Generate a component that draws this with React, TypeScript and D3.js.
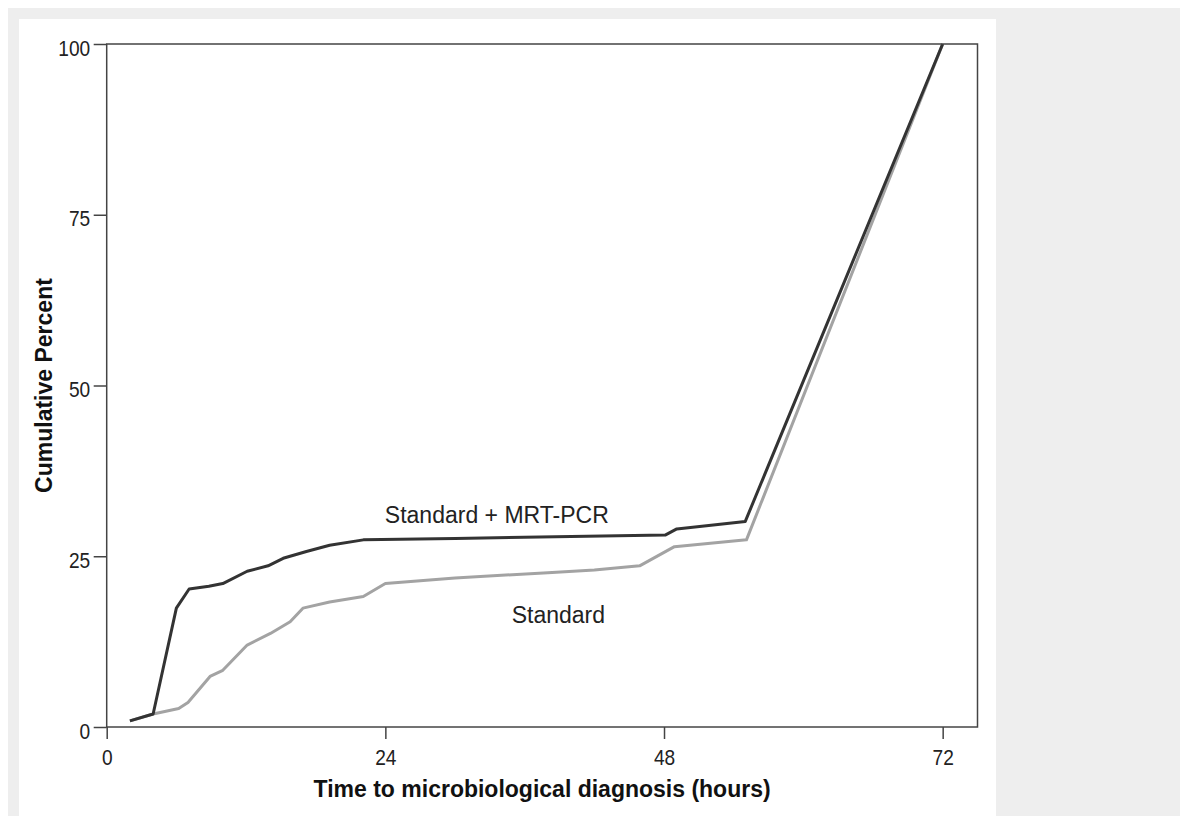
import { useEffect, useRef } from 'react'
import * as d3 from 'd3'

// cumulative % of patients with a microbiological diagnosis by hour
const HOURS_PCR = [2, 4, 6, 7.1, 8.8, 10, 12.1, 13.9, 15.2, 17.2, 19.2, 22.1, 30, 40, 48.1, 49.1, 55, 72]
const PCT_PCR = [0.9, 1.9, 17.4, 20.2, 20.6, 21.0, 22.8, 23.6, 24.7, 25.7, 26.6, 27.4, 27.6, 27.9, 28.1, 29.0, 30.1, 100]

const HOURS_STD = [2, 4, 6.2, 7, 8.9, 10, 12.1, 14.1, 15.8, 16.9, 19.2, 22.1, 24, 30, 38, 42, 45.9, 48.9, 55.1, 72]
const PCT_STD = [0.9, 1.9, 2.7, 3.6, 7.4, 8.3, 12.0, 13.7, 15.4, 17.4, 18.3, 19.1, 21.0, 21.8, 22.6, 23.0, 23.6, 26.4, 27.4, 100]

const X_TICKS = [0, 24, 48, 72]
const Y_TICKS = [0, 25, 50, 75, 100]

const SERIES_NAMES = ['Standard + MRT-PCR', 'Standard']
// where the in-plot series labels sit, in data units (hours, percent)
const LABEL_HOURS = [33.6, 38.9]
const LABEL_PCT = [29.9, 15.2]

export default function App() {
  const ref = useRef<SVGSVGElement>(null)

  useEffect(() => {
    const W = 1185, H = 816
    const svg = d3.select(ref.current)
    svg.selectAll('*').remove()
    svg.attr('width', W).attr('height', H).attr('viewBox', `0 0 ${W} ${H}`)

    const font = "'Liberation Sans', Arial, sans-serif"
    const ink = '#222'

    svg.append('rect').attr('x', 8).attr('y', 8).attr('width', 1172).attr('height', H - 8).attr('fill', '#eeeeee')
    svg.append('rect').attr('x', 19).attr('y', 19).attr('width', 977).attr('height', H - 19).attr('fill', '#fff')

    const L = 106.7, R = 977.5, T = 44, B = 727
    const x = d3.scaleLinear().domain([0, 75]).range([L, R])
    const y = d3.scaleLinear().domain([0, 100]).range([B, T])

    const line = d3.line<[number, number]>().x(d => x(d[0])).y(d => y(d[1]))

    const std = HOURS_STD.map((h, i) => [h, PCT_STD[i]] as [number, number])
    const pcr = HOURS_PCR.map((h, i) => [h, PCT_PCR[i]] as [number, number])

    svg.append('path').datum(std).attr('d', line).attr('fill', 'none')
      .attr('stroke', '#a3a3a3').attr('stroke-width', 3).attr('stroke-linejoin', 'round')
    svg.append('path').datum(pcr).attr('d', line).attr('fill', 'none')
      .attr('stroke', '#333').attr('stroke-width', 3).attr('stroke-linejoin', 'round')

    // frame
    svg.append('rect').attr('x', L).attr('y', T).attr('width', R - L).attr('height', B - T)
      .attr('fill', 'none').attr('stroke', '#444').attr('stroke-width', 1.5)

    // tick labels in the original are a condensed face, so squeeze them a bit
    const styleAxis = (s: any) => {
      s.select('.domain').remove()
      s.selectAll('line').attr('stroke', '#444').attr('stroke-width', 1.5)
      s.selectAll('text').attr('fill', ink).attr('font-family', font).attr('font-size', 22.5)
        .attr('x', 0).attr('y', 0).attr('dy', null)
    }

    svg.append('g').attr('transform', `translate(0,${B})`)
      .call(d3.axisBottom(x).tickValues(X_TICKS).tickSize(12).tickFormat(d3.format('d')))
      .call(styleAxis)
      .call((s: any) => s.selectAll('text').attr('transform', 'translate(0,38) scale(0.85,1)'))
    svg.append('g').attr('transform', `translate(${L},0)`)
      .call(d3.axisLeft(y).tickValues(Y_TICKS).tickSize(13).tickFormat(d3.format('d')))
      .call(styleAxis)
      .call((s: any) => s.selectAll('text').attr('transform', 'translate(-16.5,11) scale(0.85,1)'))

    svg.append('text')
      .attr('x', (L + R) / 2).attr('y', 797).attr('text-anchor', 'middle')
      .attr('font-family', font).attr('font-weight', 'bold').attr('font-size', 23).attr('fill', '#111')
      .text('Time to microbiological diagnosis (hours)')
    svg.append('text')
      .attr('transform', `translate(52,${(T + B) / 2}) rotate(-90)`).attr('text-anchor', 'middle')
      .attr('font-family', font).attr('font-weight', 'bold').attr('font-size', 23).attr('fill', '#111')
      .text('Cumulative Percent')

    SERIES_NAMES.forEach((name, i) => {
      svg.append('text')
        .attr('x', x(LABEL_HOURS[i])).attr('y', y(LABEL_PCT[i])).attr('text-anchor', 'middle')
        .attr('font-family', font).attr('font-size', 23).attr('fill', ink)
        .text(name)
    })
  }, [])

  return (
    <div style={{ position: 'fixed', left: 0, top: 0, width: 1185, height: 816, overflow: 'hidden', background: '#fff' }}>
      <svg ref={ref} style={{ display: 'block' }} />
    </div>
  )
}
